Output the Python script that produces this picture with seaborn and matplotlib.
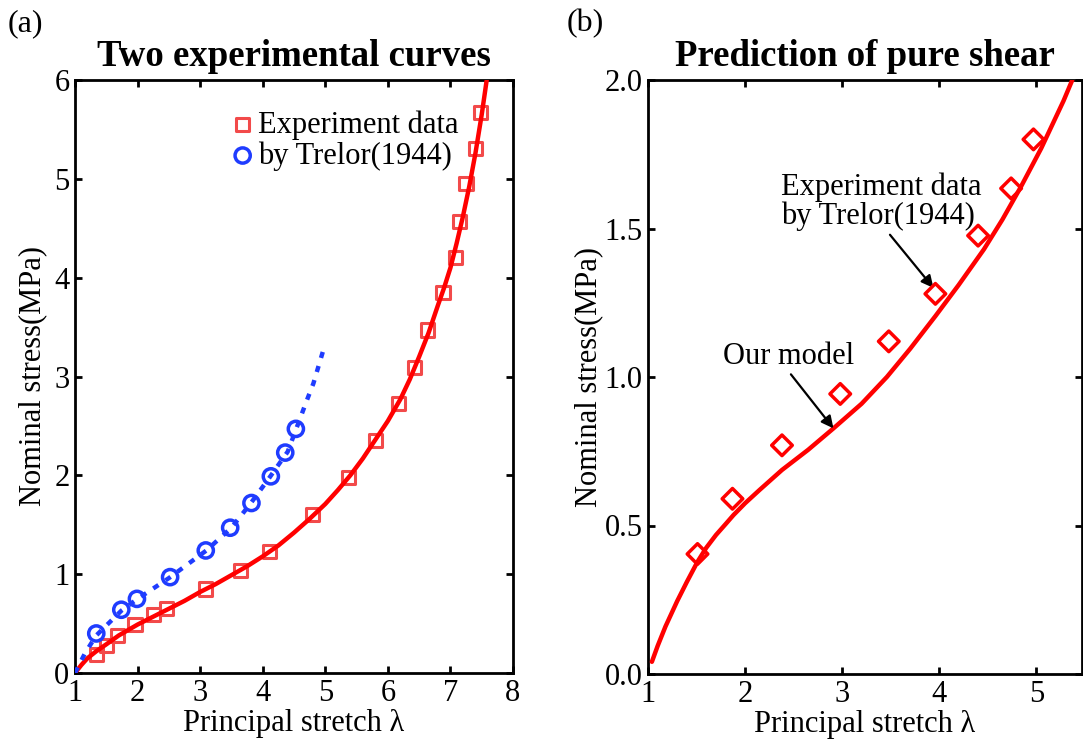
import numpy as np
import pandas as pd
import matplotlib
matplotlib.use("Agg")
import matplotlib.pyplot as plt
import seaborn as sns

# ---------------- data ----------------
# Panel (a): uniaxial experiment (red squares)
uni_x = [1.34, 1.51, 1.68, 1.96, 2.25, 2.46, 3.09, 3.64, 4.11, 4.80, 5.37, 5.80,
         6.17, 6.42, 6.63, 6.88, 7.08, 7.15, 7.25, 7.40, 7.48]
uni_y = [0.19, 0.28, 0.38, 0.49, 0.59, 0.65, 0.85, 1.04, 1.23, 1.60, 1.98, 2.35,
         2.73, 3.09, 3.47, 3.85, 4.20, 4.57, 4.95, 5.31, 5.67]
# Panel (a): uniaxial model curve (red solid)
uni_fit_x = [1.0, 1.1, 1.2, 1.34, 1.5, 1.7, 2.0, 2.25, 2.5, 2.75, 3.0, 3.25, 3.5,
             3.75, 4.0, 4.25, 4.5, 4.75, 5.0, 5.2, 5.4, 5.6, 5.8, 6.0, 6.2, 6.35,
             6.5, 6.65, 6.8, 6.9, 7.0, 7.1, 7.2, 7.3, 7.4, 7.5, 7.58]
uni_fit_y = [0.0, 0.08, 0.15, 0.22, 0.29, 0.38, 0.49, 0.57, 0.65, 0.73, 0.82,
             0.90, 0.99, 1.08, 1.18, 1.29, 1.42, 1.56, 1.71, 1.85, 2.00, 2.17,
             2.36, 2.55, 2.77, 2.97, 3.20, 3.44, 3.72, 3.90, 4.10, 4.35, 4.62,
             4.92, 5.26, 5.65, 6.0]
# Panel (a): second experiment (blue circles)
eq_x = [1.34, 1.74, 1.99, 2.52, 3.09, 3.48, 3.82, 4.13, 4.36, 4.53]
eq_y = [0.40, 0.64, 0.75, 0.97, 1.24, 1.47, 1.72, 1.99, 2.23, 2.47]
# Panel (a): blue dotted model curve
eq_fit_x = [1.0, 1.16, 1.34, 1.74, 2.0, 2.5, 3.1, 3.5, 3.8, 4.1, 4.4, 4.53,
            4.70, 4.81, 4.89, 4.97, 5.0]
eq_fit_y = [0.0, 0.20, 0.38, 0.63, 0.75, 0.96, 1.24, 1.47, 1.71, 1.97, 2.24,
            2.46, 2.75, 2.93, 3.10, 3.27, 3.28]

# Panel (b): pure shear experiment (red diamonds)
ps_x = [1.51, 1.87, 2.38, 2.98, 3.48, 3.96, 4.40, 4.74, 4.97]
ps_y = [0.404, 0.59, 0.77, 0.943, 1.12, 1.28, 1.476, 1.635, 1.80]
# Panel (b): model prediction (red solid)
ps_fit_x = [1.04, 1.10, 1.18, 1.30, 1.40, 1.51, 1.60, 1.70, 1.80, 1.88, 2.00,
            2.15, 2.38, 2.65, 2.91, 3.20, 3.46, 3.70, 3.96, 4.20, 4.46, 4.65,
            4.84, 5.05, 5.28, 5.37]
ps_fit_y = [0.041, 0.095, 0.16, 0.245, 0.31, 0.378, 0.425, 0.468, 0.505, 0.535,
            0.575, 0.62, 0.687, 0.755, 0.827, 0.91, 1.00, 1.095, 1.205, 1.31,
            1.43, 1.53, 1.64, 1.77, 1.93, 2.0]

x_ticks_a = [1, 2, 3, 4, 5, 6, 7, 8]
y_ticks_a = [0, 1, 2, 3, 4, 5, 6]
x_ticks_b = [1, 2, 3, 4, 5]
y_ticks_b = [0.0, 0.5, 1.0, 1.5, 2.0]
y_tick_labels_b = ["0.0", "0.5", "1.0", "1.5", "2.0"]

# ---------------- style ----------------
sns.set_style("ticks")
plt.rcParams['font.family'] = ['Liberation Serif', 'DejaVu Serif']
plt.rcParams['text.color'] = 'black'
plt.rcParams['axes.labelcolor'] = 'black'
plt.rcParams['xtick.color'] = 'black'
plt.rcParams['ytick.color'] = 'black'

RED = "#ff0000"
RED_M = "#f24a4a"
BLUE = "#1f3cff"

fig = plt.figure(figsize=(10.83, 7.47), dpi=100)
axA = fig.add_axes([75/1083, 1-673/747, 438/1083, 593/747])
axB = fig.add_axes([648/1083, 1-674/747, 434/1083, 594/747])

def style_axes(ax):
    for s in ax.spines.values():
        s.set_linewidth(2.0)
        s.set_color("black")
    ax.tick_params(direction="in", length=5, width=2.0, top=True, right=True,
                   labelsize=22, pad=4, colors="black")

# ---------------- panel (a) ----------------
df_uni_fit = pd.DataFrame({"x": uni_fit_x, "y": uni_fit_y})
df_uni = pd.DataFrame({"x": uni_x, "y": uni_y})
df_eq = pd.DataFrame({"x": eq_x, "y": eq_y})
df_eq_fit = pd.DataFrame({"x": eq_fit_x, "y": eq_fit_y})

sns.scatterplot(data=df_uni, x="x", y="y", ax=axA, marker="s", s=90,
                facecolor="none", edgecolor=RED_M, linewidth=2.2,
                label="Experiment data", zorder=3)
sns.scatterplot(data=df_eq, x="x", y="y", ax=axA, marker="o", s=120,
                facecolor="none", edgecolor=BLUE, linewidth=2.5,
                label="by Trelor(1944)", zorder=3)
sns.lineplot(data=df_uni_fit, x="x", y="y", ax=axA, color=RED, lw=3.2,
             sort=False, estimator=None, zorder=4, legend=False)
sns.lineplot(data=df_eq_fit, x="x", y="y", ax=axA, color=BLUE, lw=3.2,
             sort=False, estimator=None, zorder=4, legend=False,
             linestyle=(0, (1.4, 1.9)))

axA.set_xlim(1, 8)
axA.set_ylim(0, 6)
axA.set_xticks(x_ticks_a)
axA.set_yticks(y_ticks_a)
axA.set_xlabel("Principal stretch λ", fontsize=22, labelpad=1)
axA.set_ylabel("Nominal stress(MPa)", fontsize=22, labelpad=5)
axA.set_title("Two experimental curves", fontsize=26.5, fontweight="bold", pad=10)
style_axes(axA)
leg = axA.legend(loc="upper left", bbox_to_anchor=(0.32, 0.97), frameon=False,
                 fontsize=22, handletextpad=0.0, labelspacing=0.05,
                 borderaxespad=0.0, handlelength=1.0)

# ---------------- panel (b) ----------------
df_ps = pd.DataFrame({"x": ps_x, "y": ps_y})
df_ps_fit = pd.DataFrame({"x": ps_fit_x, "y": ps_fit_y})
sns.lineplot(data=df_ps_fit, x="x", y="y", ax=axB, color=RED, lw=3.2,
             sort=False, estimator=None, zorder=3, legend=False)
sns.scatterplot(data=df_ps, x="x", y="y", ax=axB, marker="D", s=110,
                facecolor="none", edgecolor=RED, linewidth=2.5, zorder=4,
                legend=False)
axB.set_xlim(1, 5.47)
axB.set_ylim(0, 2.0)
axB.set_xticks(x_ticks_b)
axB.set_yticks(y_ticks_b)
axB.set_yticklabels(y_tick_labels_b)
axB.set_xlabel("Principal stretch λ", fontsize=22, labelpad=1)
axB.set_ylabel("Nominal stress(MPa)", fontsize=22, labelpad=1)
axB.set_title("Prediction of pure shear", fontsize=26.5, fontweight="bold", pad=10)
style_axes(axB)

axB.annotate("Experiment data\nby Trelor(1944)", xy=(3.94, 1.30), xytext=(2.37, 1.49),
             fontsize=22, ha="left", va="bottom", linespacing=1.0,
             arrowprops=dict(arrowstyle="-|>", color="black", lw=1.6,
                             mutation_scale=18, shrinkA=0, shrinkB=0,
                             relpos=(0.53, 0.0)))
axB.annotate("Our model", xy=(2.91, 0.827), xytext=(1.77, 1.02),
             fontsize=22, ha="left", va="bottom",
             arrowprops=dict(arrowstyle="-|>", color="black", lw=1.6,
                             mutation_scale=18, shrinkA=0, shrinkB=0,
                             relpos=(0.5, 0.0)))

fig.text(8/1083, 1-38/747, "(a)", fontsize=23, ha="left", va="bottom")
fig.text(567/1083, 1-38/747, "(b)", fontsize=23, ha="left", va="bottom")

fig.savefig("out.png", dpi=100)
